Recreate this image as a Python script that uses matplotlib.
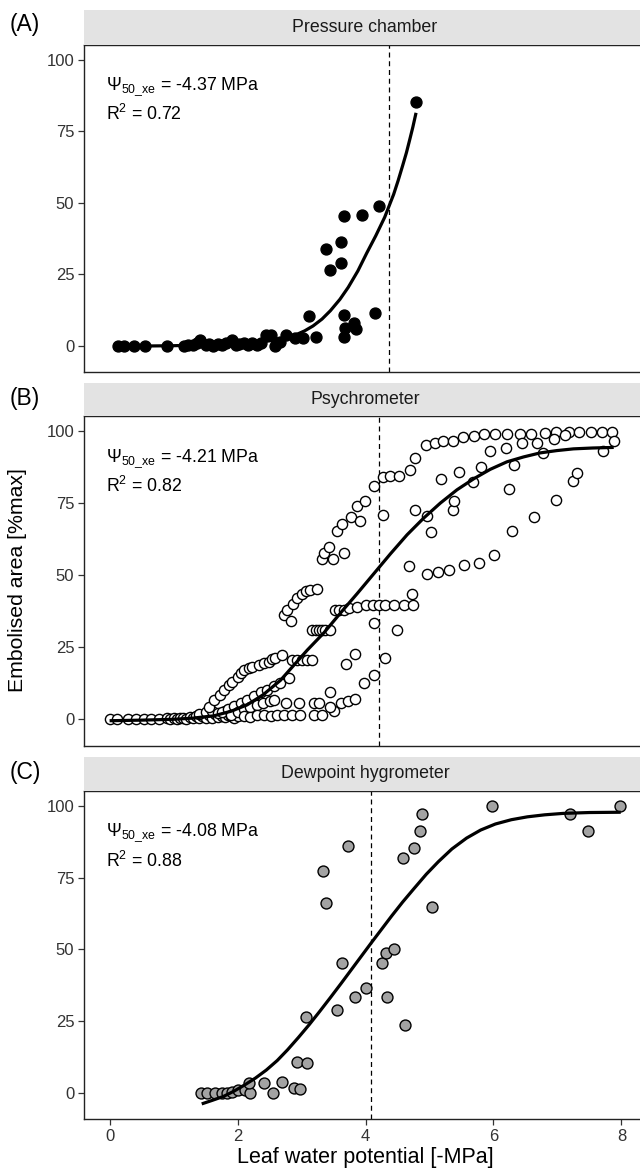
import matplotlib
matplotlib.use("Agg")
import matplotlib.pyplot as plt

plt.rcParams['font.family'] = ['Liberation Sans', 'DejaVu Sans']
plt.rcParams['mathtext.fontset'] = 'custom'
plt.rcParams['mathtext.rm'] = 'Liberation Sans'
plt.rcParams['mathtext.it'] = 'Liberation Sans:italic'
plt.rcParams['mathtext.default'] = 'regular'

# ---------------- data ----------------
panel_titles = ["Pressure chamber", "Psychrometer", "Dewpoint hygrometer"]
panel_tags = ["(A)", "(B)", "(C)"]
psi50 = [4.37, 4.21, 4.08]
r2 = [0.72, 0.82, 0.88]

# (A) Pressure chamber
pc_x = [0.13, 0.22, 0.38, 0.55, 0.89, 1.17, 1.22, 1.30, 1.36, 1.42, 1.50, 1.55, 1.62, 1.70,
        1.76, 1.82, 1.91, 1.97, 2.03, 2.10, 2.17, 2.23, 2.30, 2.37, 2.45, 2.53, 2.58, 2.62,
        2.67, 2.76, 2.90, 3.03, 3.23, 3.12, 3.39, 3.45, 3.61, 3.62, 3.67, 3.94, 4.21, 4.79,
        3.67, 3.82, 3.68, 3.85, 3.67, 4.15]
pc_y = [0.0, 0.0, 0.0, 0.0, 0.0, 0.0, 0.5, 0.2, 1.0, 2.0, 0.3, 0.8, 0.0, 0.6,
        0.3, 1.0, 2.0, 0.5, 0.8, 1.2, 0.4, 0.9, 0.3, 1.0, 3.8, 3.8, 0.0, 1.0,
        1.5, 3.8, 2.9, 2.9, 3.3, 10.5, 33.8, 26.6, 36.5, 29.1, 45.5, 45.8, 49.0, 85.4,
        10.8, 8.2, 6.2, 5.8, 3.3, 11.4]
pc_fit_x = [0.13, 0.6, 1.0, 1.4, 1.8, 2.1, 2.4, 2.67, 2.9, 3.05, 3.18, 3.32, 3.45, 3.6,
            3.73, 3.88, 4.02, 4.16, 4.30, 4.37, 4.44, 4.51, 4.58, 4.64, 4.69, 4.74, 4.79]
pc_fit_y = [0.0, 0.0, 0.1, 0.3, 0.6, 1.0, 1.5, 2.3, 3.8, 5.3, 7.0, 9.4, 12.3, 16.3,
            20.5, 26.2, 32.5, 38.5, 45.0, 49.0, 53.0, 57.8, 63.0, 67.6, 72.0, 76.5, 81.5]

# (B) Psychrometer
ps_x = [0.00, 0.12, 0.28, 0.41, 0.54, 0.64, 0.78, 0.90, 0.95, 1.00, 1.05, 1.10, 1.15, 1.20,
        1.25, 1.30, 1.35, 1.40, 1.45, 1.50, 1.55, 1.60, 1.65, 1.70, 1.75, 1.80, 1.85, 1.90,
        1.95, 2.00, 1.40, 1.50, 1.60, 1.70, 1.80,
        1.55, 1.63, 1.73, 1.79, 1.87, 1.92, 2.00, 2.05, 2.10, 2.18, 2.23, 2.33, 2.41, 2.49,
        2.54, 2.59, 2.70,
        2.85, 2.93, 3.01, 3.09, 3.17, 3.69, 3.84, 4.31,
        1.76, 1.85, 1.94, 2.05, 2.15, 2.26, 2.36, 2.46, 2.57, 2.67, 2.80,
        1.90, 2.00, 2.10, 2.20, 2.30, 2.40, 2.50, 2.57, 2.75, 2.96,
        2.10, 2.20, 2.30, 2.41, 2.52, 2.62, 2.72, 2.85, 2.98, 3.19, 3.32, 3.50,
        3.19, 3.27, 3.45, 3.61, 3.72, 3.83, 3.97, 4.14, 3.45,
        2.72, 2.78, 2.84, 2.86, 2.93, 3.00, 3.07, 3.13, 3.24,
        3.17, 3.22, 3.27, 3.32, 3.37, 3.45,
        3.53, 3.58, 3.66, 3.74, 3.87, 4.00, 4.11, 4.21, 4.31, 4.44, 4.60, 4.75, 4.72, 4.13, 4.49,
        3.32, 3.35, 3.43, 3.49, 3.56, 3.64, 3.66, 3.77, 3.87, 3.92,
        3.99, 4.13, 4.27, 4.39, 4.52, 4.69, 4.78, 4.95, 5.08, 5.21, 5.37, 5.52, 5.69, 5.85,
        6.03, 6.21, 6.41, 6.59, 6.80, 6.98, 7.18, 7.33, 7.52, 7.70, 7.85,
        4.28, 4.77, 4.96, 5.03, 5.18, 5.37, 5.39, 5.46, 5.68, 5.81, 5.95, 6.19, 6.32, 6.24,
        6.29, 6.45, 6.68, 6.78, 6.94, 7.12, 7.72, 7.88,
        4.68, 4.96, 5.13, 5.31, 5.54, 5.78, 6.01, 6.64, 6.98, 7.24, 7.31]
ps_y = [0.0, 0.0, 0.0, 0.0, 0.0, 0.0, 0.0, 0.3, 0.0, 0.5, 0.0, 0.3, 0.6, 0.2,
        0.8, 0.4, 1.0, 0.5, 1.2, 0.3, 1.5, 0.6, 1.8, 0.8, 1.3, 0.9, 1.5, 1.0,
        0.5, 1.2, 2.0, 2.5, 3.0, 2.2, 2.8,
        4.4, 6.7, 8.4, 10.1, 11.9, 13.1, 14.8, 16.0, 17.1, 17.7, 18.3, 18.9, 19.4, 20.0,
        20.8, 21.1, 22.3,
        20.6, 20.6, 20.6, 20.6, 20.6, 19.2, 22.6, 21.2,
        2.5, 3.5, 4.5, 5.7, 6.8, 8.0, 9.6, 10.2, 11.4, 12.5, 14.3,
        1.5, 2.5, 3.5, 4.2, 5.0, 5.5, 6.2, 6.7, 5.5, 5.5,
        1.0, 0.8, 1.5, 1.5, 1.2, 1.5, 1.5, 1.5, 1.5, 1.5, 1.5, 2.7,
        5.5, 5.8, 4.4, 5.5, 6.2, 6.9, 12.7, 15.5, 9.5,
        36.0, 38.0, 34.0, 40.0, 42.0, 43.5, 44.5, 45.0, 45.3,
        31.0, 31.0, 31.0, 31.0, 31.0, 31.0,
        37.9, 37.9, 37.9, 38.5, 39.0, 39.6, 39.6, 39.6, 39.6, 39.6, 39.6, 39.6, 43.3, 33.5, 31.0,
        55.5, 57.8, 59.8, 55.7, 65.4, 67.7, 57.8, 70.0, 73.9, 68.8,
        75.8, 80.8, 84.0, 84.3, 84.3, 86.3, 90.6, 95.2, 96.0, 96.4, 96.7, 97.9, 98.2, 99.1,
        99.0, 99.0, 99.1, 99.1, 99.4, 99.6, 99.6, 99.6, 99.6, 99.6, 99.6,
        71.0, 72.7, 70.6, 64.9, 83.5, 72.7, 75.8, 85.7, 82.2, 87.4, 92.9, 94.0, 88.2, 80.0,
        65.4, 95.8, 96.0, 92.3, 97.1, 98.5, 92.9, 96.5,
        53.2, 50.3, 51.1, 51.7, 53.5, 54.3, 56.9, 70.3, 76.1, 82.6, 85.3]
ps_fit_x = [0.00, 0.5, 1.0, 1.3, 1.63, 1.9, 2.15, 2.4, 2.67, 2.83, 3.09, 3.35, 3.61, 3.87,
            4.13, 4.39, 4.65, 4.91, 5.17, 5.43, 5.69, 5.95, 6.21, 6.47, 6.73, 6.99, 7.25,
            7.55, 7.88]
ps_fit_y = [-0.5, -0.3, 0.0, 0.4, 1.2, 2.8, 5.0, 8.5, 13.5, 17.5, 24.0, 30.0, 36.9, 43.6,
            50.5, 57.4, 64.0, 69.8, 75.0, 79.6, 83.4, 86.7, 89.3, 91.0, 92.4, 93.2, 93.8,
            94.1, 94.3]

# (C) Dewpoint hygrometer
dp_x = [1.43, 1.53, 1.64, 1.75, 1.83, 1.92, 2.00, 2.11, 2.20, 2.18, 2.42, 2.56, 2.69, 2.88,
        2.98, 2.93, 3.09, 3.07, 3.34, 3.38, 3.73, 3.64, 3.55, 3.83, 4.01, 4.26, 4.32, 4.45,
        4.33, 4.61, 4.58, 4.76, 4.85, 4.89, 5.04, 5.98, 7.20, 7.48, 7.98]
dp_y = [0.1, 0.0, 0.0, 0.0, 0.0, 0.5, 1.0, 1.0, 0.0, 3.6, 3.4, 0.0, 3.8, 1.7,
        1.4, 10.7, 10.3, 26.4, 77.4, 66.3, 86.1, 45.2, 28.9, 33.6, 36.5, 45.3, 48.9, 50.1,
        33.6, 23.7, 82.0, 85.3, 91.3, 97.1, 64.9, 100.0, 97.1, 91.3, 100.0]
dp_fit_x = [1.44, 1.6, 1.78, 1.95, 2.11, 2.28, 2.45, 2.62, 2.78, 2.95, 3.12, 3.28, 3.45,
            3.62, 3.79, 3.94, 4.08, 4.25, 4.41, 4.58, 4.75, 4.95, 5.14, 5.35, 5.58, 5.8,
            6.03, 6.28, 6.53, 6.8, 7.09, 7.5, 7.99]
dp_fit_y = [-3.8, -2.6, -1.2, 0.7, 2.8, 5.2, 8.0, 11.3, 15.0, 19.3, 23.8, 28.3, 33.2,
            38.2, 43.3, 47.8, 52.0, 57.0, 61.7, 66.5, 71.0, 76.2, 80.6, 85.0, 88.8, 91.6,
            93.7, 95.2, 96.2, 96.9, 97.4, 97.7, 97.8]

y_ticks = [0, 25, 50, 75, 100]
x_ticks = [0, 2, 4, 6, 8]
x_label = "Leaf water potential [-MPa]"
y_label = "Embolised area [%max]"

# ---------------- layout ----------------
W, H = 640, 1173
fig = plt.figure(figsize=(W / 100, H / 100), dpi=100)

left_px, right_px = 84, 647
# (axes top, axes bottom, strip top) in pixels
panels_px = [(45, 372.3, 10), (416, 745.8, 383), (791, 1119.4, 757)]
tag_y_px = [24, 398, 772]

datasets = [
    (pc_x, pc_y, pc_fit_x, pc_fit_y, dict(facecolor='black', edgecolor='black', s=62)),
    (ps_x, ps_y, ps_fit_x, ps_fit_y, dict(facecolor='white', edgecolor='black', s=54)),
    (dp_x, dp_y, dp_fit_x, dp_fit_y, dict(facecolor='#A3A3A3', edgecolor='black', s=62)),
]

tick_col = '#333333'
for i, ((top, bot, stop), (xs, ys, fx, fy, sty)) in enumerate(zip(panels_px, datasets)):
    ax = fig.add_axes([left_px / W, 1 - bot / H, (right_px - left_px) / W, (bot - top) / H])
    ax.set_xlim(-0.4, 8.4)
    ax.set_ylim(-9.2, 105.2)
    ax.axvline(psi50[i], color='black', lw=0.9, ls=(0, (4, 3)), zorder=1)
    ax.scatter(xs, ys, linewidths=1.0, zorder=2, **sty)
    ax.plot(fx, fy, color='black', lw=2.3, zorder=3, solid_capstyle='butt', solid_joinstyle='round')
    ax.set_yticks(y_ticks)
    ax.set_yticklabels([str(t) for t in y_ticks], fontsize=12, color=tick_col)
    ax.tick_params(axis='y', length=4, width=0.9, color=tick_col, pad=3)
    if i == 2:
        ax.set_xticks(x_ticks)
        ax.set_xticklabels([str(t) for t in x_ticks], fontsize=12, color=tick_col)
        ax.tick_params(axis='x', length=4, width=0.9, color=tick_col, pad=3)
    else:
        ax.set_xticks([])
    for sp in ax.spines.values():
        sp.set_color('#222222')
        sp.set_linewidth(1.0)
    ax.text(-0.05, 90.5, r'$\Psi_{50\_xe}$ = -%.2f MPa' % psi50[i], fontsize=12.8, va='center', ha='left')
    ax.text(-0.05, 81.0, r'R$^2$ = %.2f' % r2[i], fontsize=12.8, va='center', ha='left')

    # strip
    sax = fig.add_axes([left_px / W, 1 - top / H, (right_px - left_px) / W, (top - stop) / H])
    sax.set_facecolor('#E3E3E3')
    sax.set_xticks([]); sax.set_yticks([])
    for sp in sax.spines.values():
        sp.set_visible(False)
    sax.text((365 - left_px) / (right_px - left_px), 0.5, panel_titles[i], fontsize=12.8,
             ha='center', va='center', color='#1A1A1A', transform=sax.transAxes)

    fig.text(25 / W, 1 - tag_y_px[i] / H, panel_tags[i], fontsize=16.5, ha='center', va='center')

fig.text(365.5 / W, 1 - 1157 / H, x_label, fontsize=15.5, ha='center', va='center')
fig.text(18 / W, 1 - 580 / H, y_label, fontsize=15.3, ha='center', va='center', rotation=90)

fig.savefig('out.png', dpi=100)
